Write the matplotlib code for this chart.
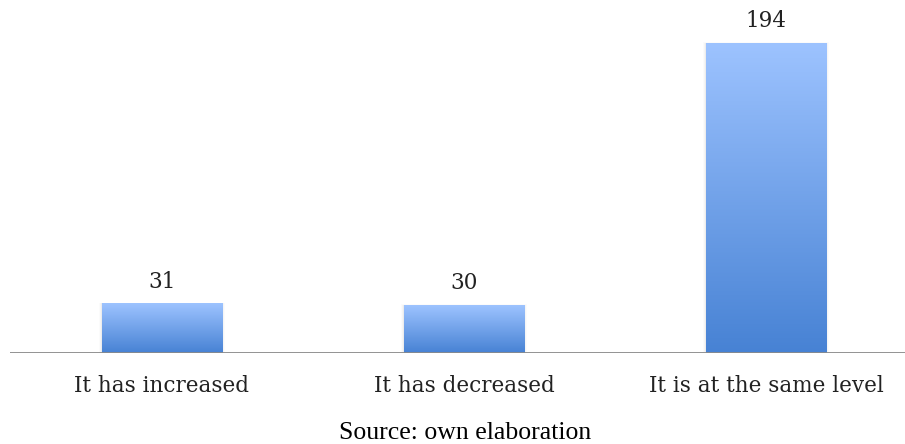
import numpy as np
import matplotlib
matplotlib.use("Agg")
import matplotlib.pyplot as plt
from matplotlib.colors import LinearSegmentedColormap

categories = ["It has increased", "It has decreased", "It is at the same level"]
values = [31, 30, 194]
source_note = "Source: own elaboration"

fig = plt.figure(figsize=(9.05, 4.44), dpi=100)
ax = fig.add_axes([10 / 905, 91 / 444, 895 / 905, 353 / 444])

x = np.arange(len(categories))
width = 0.4
ax.set_xlim(-0.503, 2.46)
ax.set_ylim(0, 221)

# vertical gradient: dark blue at the base, light blue at the top
cmap = LinearSegmentedColormap.from_list("barfill", ["#4782d4", "#9dc3ff"])
grad = np.linspace(0, 1, 256).reshape(-1, 1)

label_font = dict(family="DejaVu Serif", fontsize=15.5, color="#222222")

bars = ax.bar(x, values, width=width, color="none", edgecolor="none", zorder=2)
for rect, v in zip(bars, values):
    x0 = rect.get_x()
    # faint shadow around the bar
    for i, a in enumerate([0.035, 0.025, 0.015]):
        d = 0.003 * (i + 1)
        ax.add_patch(plt.Rectangle((x0 - d, 0), rect.get_width() + 2 * d, v + d * 60,
                                   facecolor="black", alpha=a, edgecolor="none", zorder=1))
    im = ax.imshow(grad, extent=(x0, x0 + rect.get_width(), 0, v), origin="lower",
                   cmap=cmap, aspect="auto", zorder=2, interpolation="bicubic")
    im.set_clip_path(rect)
    ax.annotate(str(v), (rect.get_x() + rect.get_width() / 2, v), xytext=(0, 11.5),
                textcoords="offset points", ha="center", va="baseline", **label_font)

ax.axhline(0, color="#8a8a8a", lw=1.3, zorder=3)

ax.set_xticks(x)
ax.set_xticklabels(categories, **label_font)
ax.tick_params(axis="x", length=0, pad=16)
ax.set_yticks([])
for s in ax.spines.values():
    s.set_visible(False)

fig.text(465 / 905, 1 - 439 / 444, source_note, ha="center", va="baseline",
         family="Liberation Serif", fontsize=18.5, color="black")

fig.savefig("out.png", dpi=100)
